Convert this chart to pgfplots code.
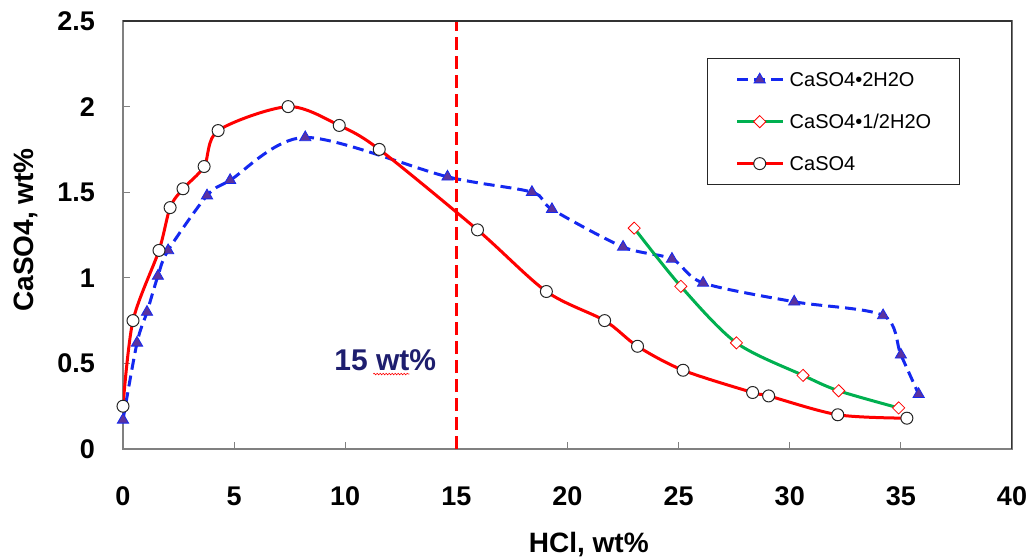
\documentclass[border=0pt]{standalone}
\usepackage{pgfplots}
\pgfplotsset{compat=1.18}
\usepackage{fontspec}
\setmainfont{Liberation Sans}
\usetikzlibrary{decorations.pathmorphing}
\definecolor{cblue}{RGB}{20,40,240}
\definecolor{cpurple}{RGB}{90,50,160}
\definecolor{cgreen}{RGB}{0,176,80}
\definecolor{cnavy}{RGB}{30,30,110}
\begin{document}
\begin{tikzpicture}
\begin{axis}[
  scale only axis, width=889pt, height=428pt,
  xmin=0, xmax=40, ymin=0, ymax=2.5,
  xtick={0,5,10,15,20,25,30,35,40},
  ytick={0,0.5,1,1.5,2,2.5},
  tick pos=left, tick align=inside, major tick length=7pt,
  every tick/.style={black!50, line width=1pt},
  axis line style={draw=black!50, line width=1.3pt},
  /pgf/number format/assume math mode=true,
  tick label style={font=\bfseries\fontsize{27}{30}\selectfont, inner sep=0pt},
  xticklabel style={anchor=base, yshift=-56pt},
  yticklabel style={anchor=east, xshift=-28pt},
  xlabel={HCl, wt\%},
  ylabel={CaSO4, wt\%},
  every axis x label/.style={at={(axis description cs:0.524,-0.2407)}, anchor=base, font=\bfseries\fontsize{28}{30}\selectfont},
  every axis y label/.style={at={(axis description cs:-0.1012,0.512)}, rotate=90, anchor=base, font=\bfseries\fontsize{28}{30}\selectfont},
  legend style={at={(rel axis cs:0.657,0.9136)}, anchor=north west, draw=black!85, line width=1.3pt, fill=white,
    inner xsep=28pt, inner ysep=14pt, font=\fontsize{20}{22}\selectfont,
    nodes={inner sep=0pt, text height=14pt, text depth=0pt}, row sep=28pt,
    /tikz/every odd column/.style={column sep=6pt}},
  legend cell align=left,
  legend image code/.code={\draw[mark repeat=2,mark phase=2,#1] plot coordinates {(0pt,0pt) (22.5pt,0pt) (45pt,0pt)};},
]
\addplot[cblue, line width=3pt, dash pattern=on 11pt off 6pt, smooth, mark=triangle*, mark size=6.5pt,
  mark options={solid, fill=cpurple, draw=cblue, line width=0.8pt}] coordinates {
(0,0.17) (0.63,0.62) (1.08,0.80) (1.57,1.01) (2.03,1.16) (3.78,1.48) (4.82,1.57) (8.2,1.82)
(14.6,1.59) (18.4,1.50) (19.3,1.40) (22.5,1.18) (24.7,1.11) (26.1,0.97) (30.2,0.86)
(34.2,0.78) (35.0,0.55) (35.8,0.32)};
\addlegendentry{CaSO4•2H2O}
\addplot[cgreen, line width=3pt, smooth, mark=square*, mark size=4.3pt,
  mark options={rotate=45, fill=white, draw=red, line width=0.8pt}] coordinates {
(23.0,1.29) (25.1,0.95) (27.6,0.62) (30.6,0.43) (32.2,0.34) (34.9,0.24)};
\addlegendentry{CaSO4•1/2H2O}
\addplot[red, line width=3pt, smooth, mark=*, mark size=6pt,
  mark options={fill=white, draw=black!85, line width=1pt}] coordinates {
(0,0.25) (0.45,0.75) (1.62,1.16) (2.12,1.41) (2.7,1.52) (3.65,1.65) (4.28,1.86) (7.43,2.0)
(9.73,1.89) (11.53,1.75) (15.95,1.28) (19.05,0.92) (21.67,0.75) (23.15,0.60) (25.2,0.46)
(28.33,0.33) (29.05,0.31) (32.16,0.20) (35.27,0.18)};
\addlegendentry{CaSO4}
\addplot[red, line width=3pt, dash pattern=on 13pt off 6pt, forget plot] coordinates {(15,0) (15,2.5)};
\node[anchor=base west, inner sep=0pt, text=cnavy, font=\bfseries\fontsize{30}{32}\selectfont] at (axis cs:9.5,0.461) {15 wt\%};
\draw[red, line width=0.6pt, decorate, decoration={snake, amplitude=0.8pt, segment length=3pt}] (axis cs:11.26,0.438) -- (axis cs:12.88,0.438);
\draw[black!80, line width=1.3pt] (rel axis cs:0,1) -- (rel axis cs:1,1) -- (rel axis cs:1,0);
\end{axis}
\pgfresetboundingbox
\useasboundingbox (-123pt,-108pt) rectangle (907pt,449pt);
\end{tikzpicture}
\end{document}
